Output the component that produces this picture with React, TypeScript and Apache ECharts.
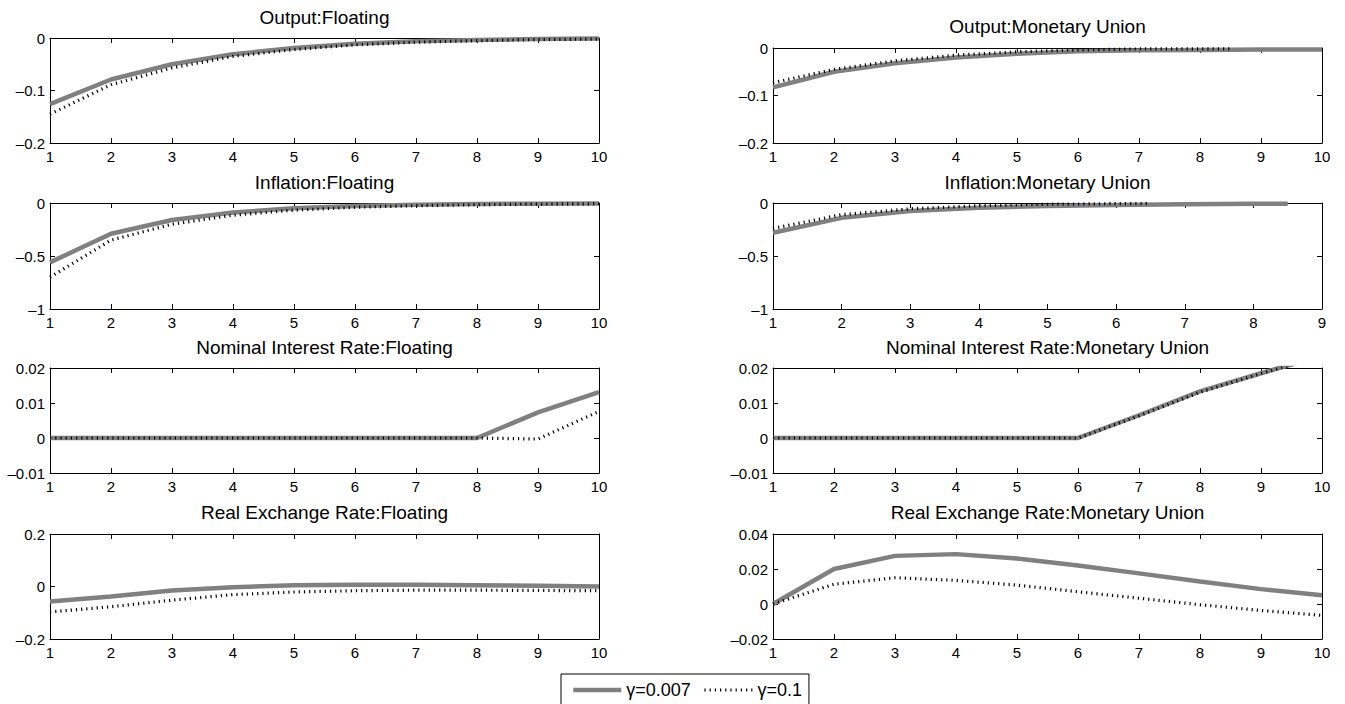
import React, { useEffect, useRef } from "react";
import * as echarts from "echarts";

// ---- data ----
const periods = [1, 2, 3, 4, 5, 6, 7, 8, 9, 10];
const legendNames = ["γ=0.007", "γ=0.1"];

const outputFloatingLow = [-0.126, -0.079, -0.05, -0.031, -0.019, -0.011, -0.006, -0.004, -0.002, -0.001];
const outputFloatingHigh = [-0.145, -0.089, -0.057, -0.035, -0.022, -0.013, -0.008, -0.005, -0.003, -0.002];

const outputUnionLow = [-0.083, -0.05, -0.032, -0.02, -0.012, -0.007, -0.005, -0.004, -0.003, -0.003];
const outputUnionHighX = [1, 2, 3, 4, 5, 6, 7, 8, 8.5];
const outputUnionHigh = [-0.073, -0.045, -0.027, -0.015, -0.008, -0.004, -0.002, -0.002, -0.002];

const inflationFloatingLow = [-0.56, -0.29, -0.16, -0.09, -0.05, -0.028, -0.016, -0.01, -0.006, -0.004];
const inflationFloatingHigh = [-0.7, -0.35, -0.2, -0.115, -0.068, -0.04, -0.025, -0.016, -0.01, -0.007];

const inflationUnionLowX = [1, 2, 3, 4, 5, 6, 7, 8, 8.5];
const inflationUnionLow = [-0.28, -0.14, -0.075, -0.045, -0.028, -0.018, -0.012, -0.008, -0.007];
const inflationUnionHighX = [1, 2, 3, 4, 5, 6, 6.5];
const inflationUnionHigh = [-0.24, -0.11, -0.055, -0.025, -0.012, -0.006, -0.004];

const interestFloatingLow = [0, 0, 0, 0, 0, 0, 0, 0, 0.0073, 0.0131];
const interestFloatingHigh = [0, 0, 0, 0, 0, 0, 0, 0, -0.0003, 0.0076];

const interestUnionLow = [0, 0, 0, 0, 0, 0, 0.0065, 0.0133, 0.0185, 0.0235];
const interestUnionHigh = [0, 0, 0, 0, 0, 0, 0.0063, 0.0131, 0.0184, 0.0234];

const rerFloatingLow = [-0.057, -0.038, -0.015, -0.003, 0.005, 0.007, 0.007, 0.005, 0.003, 0];
const rerFloatingHigh = [-0.097, -0.077, -0.052, -0.031, -0.021, -0.016, -0.014, -0.014, -0.015, -0.016];

const rerUnionLow = [0, 0.02, 0.0275, 0.0285, 0.026, 0.022, 0.0175, 0.0128, 0.0085, 0.005];
const rerUnionHigh = [0, 0.0113, 0.015, 0.0135, 0.0108, 0.007, 0.0033, -0.0004, -0.0037, -0.0065];

const zip = (xs: number[], ys: number[]) => ys.map((y, i) => [xs[i], y]);

const panels = [
  { title: "Output:Floating", xMax: 10, yMin: -0.2, yMax: 0, yStep: 0.1,
    low: zip(periods, outputFloatingLow), high: zip(periods, outputFloatingHigh) },
  { title: "Output:Monetary Union", xMax: 10, yMin: -0.2, yMax: 0, yStep: 0.1,
    low: zip(periods, outputUnionLow), high: zip(outputUnionHighX, outputUnionHigh) },
  { title: "Inflation:Floating", xMax: 10, yMin: -1, yMax: 0, yStep: 0.5,
    low: zip(periods, inflationFloatingLow), high: zip(periods, inflationFloatingHigh) },
  { title: "Inflation:Monetary Union", xMax: 9, yMin: -1, yMax: 0, yStep: 0.5,
    low: zip(inflationUnionLowX, inflationUnionLow), high: zip(inflationUnionHighX, inflationUnionHigh) },
  { title: "Nominal Interest Rate:Floating", xMax: 10, yMin: -0.01, yMax: 0.02, yStep: 0.01,
    low: zip(periods, interestFloatingLow), high: zip(periods, interestFloatingHigh) },
  { title: "Nominal Interest Rate:Monetary Union", xMax: 10, yMin: -0.01, yMax: 0.02, yStep: 0.01,
    low: zip(periods, interestUnionLow), high: zip(periods, interestUnionHigh) },
  { title: "Real Exchange Rate:Floating", xMax: 10, yMin: -0.2, yMax: 0.2, yStep: 0.2,
    low: zip(periods, rerFloatingLow), high: zip(periods, rerFloatingHigh) },
  { title: "Real Exchange Rate:Monetary Union", xMax: 10, yMin: -0.02, yMax: 0.04, yStep: 0.02,
    low: zip(periods, rerUnionLow), high: zip(periods, rerUnionHigh) },
];

// ---- layout (pixels) ----
const layout = [
  { left: 50, top: 38, width: 549, height: 105, titleTop: 8 },
  { left: 773, top: 48, width: 549, height: 95, titleTop: 17 },
  { left: 50, top: 203, width: 549, height: 106, titleTop: 173 },
  { left: 773, top: 203, width: 549, height: 106, titleTop: 173 },
  { left: 50, top: 368, width: 549, height: 105, titleTop: 338 },
  { left: 773, top: 368, width: 549, height: 105, titleTop: 338 },
  { left: 50, top: 534, width: 549, height: 105, titleTop: 503 },
  { left: 773, top: 534, width: 549, height: 105, titleTop: 503 },
];

const FONT = "'Liberation Sans', Arial, Helvetica, sans-serif";
const CLEAR = "rgba(0,0,0,0)";
const solidStyle = { color: "#808080", width: 4.5 };
const dottedStyle = { color: "#000", width: 3.2, type: [1.2, 4] };

const fmtY = (v: number) => {
  const n = parseFloat(v.toFixed(4));
  if (Math.abs(n) < 1e-9) return "0";
  return String(n).replace("-", "\u2013");
};

function buildOption() {
  const axisLine = { show: true, onZero: false, lineStyle: { color: "#000", width: 1 } };
  const axisTick = { show: true, inside: true, length: 5, lineStyle: { color: "#000", width: 1 } };
  const labelStyle = { fontSize: 15, color: "#000", fontFamily: FONT };

  const grid: any[] = [];
  const xAxis: any[] = [];
  const yAxis: any[] = [];
  const series: any[] = [];
  const title: any[] = [];

  panels.forEach((p, i) => {
    const L = layout[i];
    grid.push({ left: L.left, top: L.top, width: L.width, height: L.height, show: false });
    title.push({
      text: p.title,
      left: L.left + L.width / 2,
      top: L.titleTop,
      textAlign: "center",
      padding: 0,
      textStyle: { fontSize: 19, fontWeight: "normal", color: "#000", fontFamily: FONT },
    });
    const xBase = {
      type: "value", gridIndex: i, min: 1, max: p.xMax, interval: 1,
      axisLine, axisTick, splitLine: { show: false },
    };
    xAxis.push({ ...xBase, position: "bottom", axisLabel: { ...labelStyle, margin: 6 } });
    xAxis.push({ ...xBase, position: "top", axisLabel: { show: false } });
    const yBase = {
      type: "value", gridIndex: i, min: p.yMin, max: p.yMax, interval: p.yStep,
      axisLine, axisTick, splitLine: { show: false },
    };
    yAxis.push({ ...yBase, position: "left", axisLabel: { ...labelStyle, margin: 5, formatter: fmtY } });
    yAxis.push({ ...yBase, position: "right", axisLabel: { show: false } });

    series.push({
      type: "line", name: legendNames[0], xAxisIndex: 2 * i, yAxisIndex: 2 * i,
      data: p.low, symbol: "none", clip: true,
      lineStyle: solidStyle,
      itemStyle: { color: CLEAR, borderColor: CLEAR, borderWidth: 0 },
    });
    series.push({
      type: "line", name: legendNames[1], xAxisIndex: 2 * i, yAxisIndex: 2 * i,
      data: p.high, symbol: "none", clip: true,
      lineStyle: dottedStyle,
      itemStyle: { color: CLEAR, borderColor: CLEAR, borderWidth: 0 },
    });
  });

  return {
    animation: false,
    backgroundColor: "#fff",
    title,
    grid,
    xAxis,
    yAxis,
    series,
    legend: {
      data: [
        { name: legendNames[0], lineStyle: solidStyle },
        { name: legendNames[1], lineStyle: dottedStyle },
      ],
      left: 561,
      top: 674,
      itemWidth: 48,
      itemHeight: 12,
      itemGap: 12,
      padding: [7, 7, 30, 10],
      borderColor: "#000",
      borderWidth: 1,
      backgroundColor: "#fff",
      selectedMode: false,
      itemStyle: { color: CLEAR, borderColor: CLEAR, borderWidth: 0, opacity: 0 },
      textStyle: { fontSize: 18, color: "#000", fontFamily: FONT },
    },
  };
}

export default function App() {
  const ref = useRef<HTMLDivElement>(null);
  useEffect(() => {
    if (!ref.current) return;
    const chart = echarts.init(ref.current, undefined, { renderer: "svg" });
    chart.setOption(buildOption() as any);
    return () => chart.dispose();
  }, []);
  return (
    <div
      ref={ref}
      style={{ position: "absolute", left: 0, top: 0, width: 1345, height: 704, background: "#fff" }}
    />
  );
}
